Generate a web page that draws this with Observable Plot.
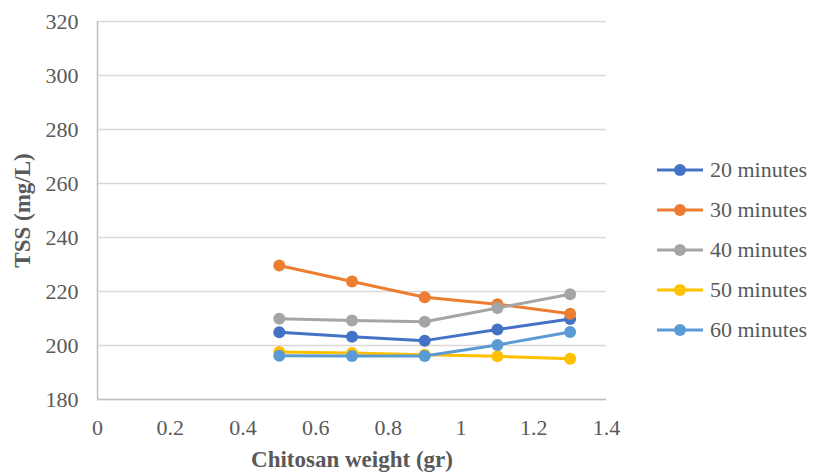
<!DOCTYPE html>
<html>
<head>
<meta charset="utf-8">
<script src="https://cdn.jsdelivr.net/npm/d3@7"></script>
<script src="https://cdn.jsdelivr.net/npm/@observablehq/plot@0.6"></script>
<style>
  html, body { margin: 0; padding: 0; background: #fff; }
  #wrap { position: relative; width: 816px; height: 472px; font-family: 'Liberation Serif', 'Times New Roman', 'DejaVu Serif', serif; }
  [aria-label="y-axis label"] text, [aria-label="x-axis label"] text { font-weight: bold; font-size: 23px; }
  #legend { position: absolute; left: 657px; top: 150px; }
  .row { display: flex; align-items: center; height: 40px; font-size: 22px; color: #595959; }
  .row svg { margin-right: 7px; }
</style>
</head>
<body>
<div id="wrap"></div>
<script>
const weights = [0.5, 0.7, 0.9, 1.1, 1.3];
const seriesNames = ["20 minutes", "30 minutes", "40 minutes", "50 minutes", "60 minutes"];
const tss20 = [204.9, 203.2, 201.8, 205.9, 209.8];
const tss30 = [229.6, 223.7, 217.9, 215.3, 211.8];
const tss40 = [209.9, 209.3, 208.8, 213.9, 219.0];
const tss50 = [197.6, 197.2, 196.6, 196.0, 195.1];
const tss60 = [196.2, 196.1, 196.1, 200.2, 205.0];
const colors = ["#4472C4", "#ED7D31", "#A5A5A5", "#FFC000", "#5B9BD5"];
const xTicks = [0, 0.2, 0.4, 0.6, 0.8, 1, 1.2, 1.4];
const yTicks = [180, 200, 220, 240, 260, 280, 300, 320];

const allSeries = [tss20, tss30, tss40, tss50, tss60];
const data = [];
allSeries.forEach((vals, i) => vals.forEach((v, j) => data.push({series: seriesNames[i], x: weights[j], y: v})));

const seriesMarks = [];
seriesNames.forEach((name, i) => {
  const d = data.filter(r => r.series === name);
  seriesMarks.push(Plot.line(d, {x: "x", y: "y", stroke: colors[i], strokeWidth: 3}));
  seriesMarks.push(Plot.dot(d, {x: "x", y: "y", fill: colors[i], r: 6}));
});

const chart = Plot.plot({
  width: 816,
  height: 472,
  marginLeft: 97,
  marginRight: 210,
  marginTop: 21,
  marginBottom: 73,
  style: {fontSize: "22px", color: "#595959", fontFamily: "'Liberation Serif', 'Times New Roman', 'DejaVu Serif', serif", background: "#fff"},
  x: {domain: [0, 1.4]},
  y: {domain: [180, 320]},
  marks: [
    Plot.gridY(yTicks, {stroke: "#d9d9d9", strokeOpacity: 1, strokeWidth: 1.5}),
    Plot.ruleX([0], {stroke: "#bfbfbf", strokeWidth: 1.5}),
    Plot.ruleY([180], {stroke: "#bfbfbf", strokeWidth: 1.5}),
    Plot.axisY(yTicks, {tickSize: 0, tickPadding: 19, label: "TSS (mg/L)", labelAnchor: "center", labelArrow: "none", labelOffset: 84, fill: "#595959"}),
    Plot.axisX(xTicks, {tickSize: 0, tickPadding: 20, tickFormat: d => String(d), label: "Chitosan weight (gr)", labelAnchor: "center", labelArrow: "none", labelOffset: 67, fill: "#595959"}),
    ...seriesMarks
  ]
});
document.getElementById("wrap").appendChild(chart);

const legend = document.createElement("div");
legend.id = "legend";
seriesNames.forEach((name, i) => {
  const row = document.createElement("div");
  row.className = "row";
  row.innerHTML = `<svg width="46" height="14"><line x1="0" y1="7" x2="46" y2="7" stroke="${colors[i]}" stroke-width="3"/><circle cx="23" cy="7" r="6" fill="${colors[i]}"/></svg><span>${name}</span>`;
  legend.appendChild(row);
});
document.getElementById("wrap").appendChild(legend);
</script>
</body>
</html>
